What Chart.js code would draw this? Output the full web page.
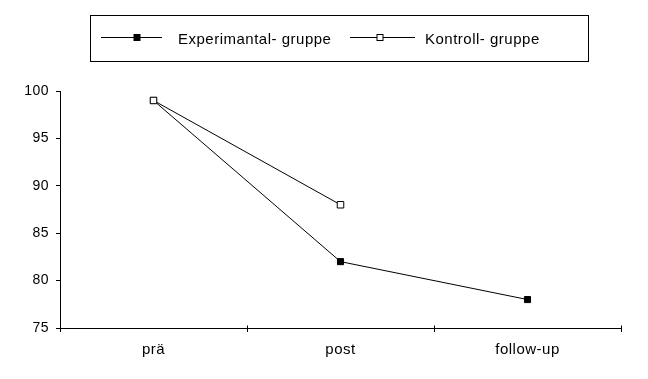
<!DOCTYPE html>
<html>
<head>
<meta charset="utf-8">
<script src="https://cdn.jsdelivr.net/npm/chart.js@4.4.1/dist/chart.umd.min.js"></script>
<style>
  html, body { margin: 0; padding: 0; background: #fff; }
  #c { display: block; }
</style>
</head>
<body>
<canvas id="c" width="648" height="379"></canvas>
<script>
const categories = ['prä', 'post', 'follow-up'];
const experimentalLabel = 'Experimantal- gruppe';
const controlLabel = 'Kontroll- gruppe';
const experimentalValues = [99, 82, 78];
const controlValues = [99, 88, null];
const yTicks = [75, 80, 85, 90, 95, 100];

const FONT = "Arial, 'Liberation Sans', sans-serif";

const legendPlugin = {
  id: 'boxLegend',
  beforeDraw(chart) {
    chart.ctx.letterSpacing = '0.5px';
  },
  afterDraw(chart) {
    const ctx = chart.ctx;
    const xs = chart.scales.x;
    ctx.save();
    ctx.strokeStyle = '#000';
    ctx.lineWidth = 1;
    // crossing ticks on the x axis (upper half)
    const y0 = Math.round(xs.top) + 0.5;
    const n = categories.length;
    for (let i = 0; i <= n; i++) {
      const px = Math.round(chart.chartArea.left + i * (chart.chartArea.right - chart.chartArea.left) / n) + 0.5;
      ctx.beginPath();
      ctx.moveTo(px, y0 - 3);
      ctx.lineTo(px, y0);
      ctx.stroke();
    }
    // legend box
    ctx.strokeRect(90.5, 15.5, 498, 46);
    const ly = 37.5;
    const items = [
      { ds: chart.data.datasets[0], x1: 101, x2: 162, mx: 137, tx: 178 },
      { ds: chart.data.datasets[1], x1: 350, x2: 415, mx: 380, tx: 425 }
    ];
    ctx.font = '15px ' + FONT;
    ctx.textBaseline = 'alphabetic';
    ctx.fillStyle = '#000';
    items.forEach(it => {
      ctx.beginPath();
      ctx.moveTo(it.x1, ly);
      ctx.lineTo(it.x2, ly);
      ctx.stroke();
      const s = 6;
      ctx.fillStyle = it.ds.pointBackgroundColor;
      ctx.fillRect(it.mx - s / 2, ly - s / 2, s, s);
      ctx.strokeRect(it.mx - s / 2, ly - s / 2, s, s);
      ctx.fillStyle = '#000';
      ctx.fillText(it.ds.label, it.tx, 44);
    });
    ctx.restore();
  }
};

new Chart(document.getElementById('c'), {
  type: 'line',
  data: {
    labels: categories,
    datasets: [
      {
        label: experimentalLabel,
        data: experimentalValues,
        borderColor: '#000',
        borderWidth: 1,
        pointStyle: 'rect',
        pointRadius: 4.3,
        pointBackgroundColor: '#000',
        pointBorderColor: '#000',
        pointBorderWidth: 1,
        tension: 0,
        order: 1
      },
      {
        label: controlLabel,
        data: controlValues,
        borderColor: '#000',
        borderWidth: 1,
        pointStyle: 'rect',
        pointRadius: 4.6,
        pointBackgroundColor: '#fff',
        pointBorderColor: '#000',
        pointBorderWidth: 1,
        tension: 0,
        order: 0
      }
    ]
  },
  options: {
    responsive: false,
    animation: false,
    events: [],
    layout: { padding: { top: 91, right: 27, left: 0, bottom: 0 } },
    plugins: {
      legend: { display: false },
      tooltip: { enabled: false }
    },
    scales: {
      x: {
        type: 'category',
        offset: true,
        grid: {
          offset: true,
          drawOnChartArea: false,
          drawTicks: true,
          tickLength: 4,
          color: '#000',
          lineWidth: 1
        },
        border: { display: true, color: '#000', width: 1 },
        ticks: {
          color: '#000',
          font: { family: FONT, size: 15 },
          padding: 9,
          maxRotation: 0
        },
        afterFit(s) { s.height = 51; }
      },
      y: {
        min: 75,
        max: 100,
        afterBuildTicks(s) { s.ticks = yTicks.map(v => ({ value: v })); },
        grid: {
          drawOnChartArea: false,
          drawTicks: true,
          tickLength: 4,
          color: '#000',
          lineWidth: 1
        },
        border: { display: true, color: '#000', width: 1 },
        ticks: {
          color: '#000',
          font: { family: FONT, size: 14 },
          padding: 7
        },
        afterFit(s) { s.width = 60; }
      }
    }
  },
  plugins: [legendPlugin]
});
</script>
</body>
</html>
